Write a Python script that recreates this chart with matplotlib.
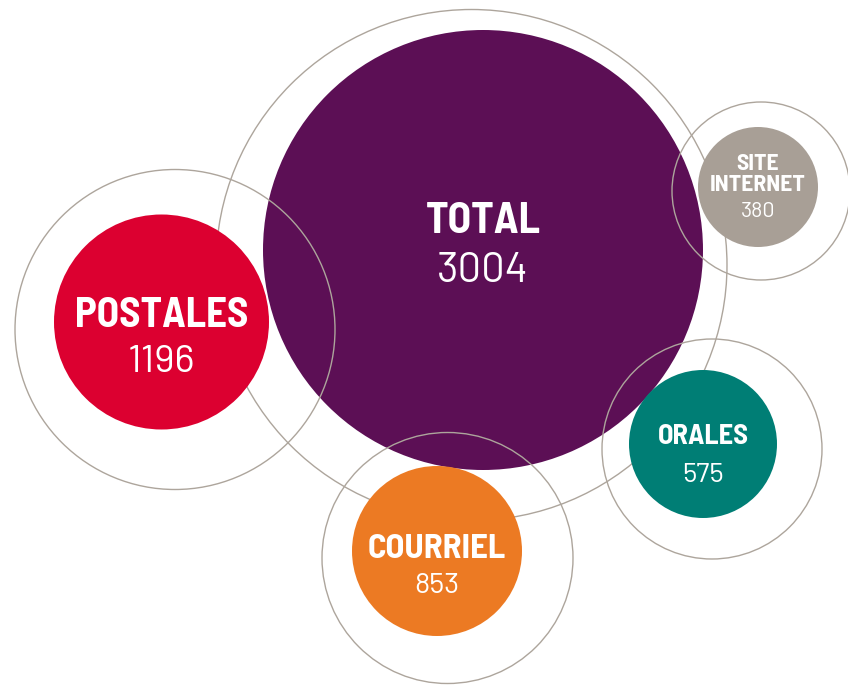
import matplotlib
matplotlib.use("Agg")
import matplotlib.pyplot as plt
from matplotlib.patches import Circle

# Data
categories = ["TOTAL", "POSTALES", "SITE\nINTERNET", "ORALES", "COURRIEL"]
values = [3004, 1196, 380, 575, 853]

# Layout (pixel coordinates) and styles
fill_centers = [(483, 250), (161.5, 322), (758, 187), (703, 444), (437, 551)]
fill_radii = [220, 107.5, 60, 74, 85]
ring_centers = [(471.5, 265), (175, 329.5), (761, 191), (712, 449), (447.5, 558)]
ring_radii = [255.5, 160, 89, 110, 125.5]
colors = ["#5C0F55", "#DC0030", "#A89F96", "#007E75", "#EC7A23"]
ring_color = "#ADA59C"
label_sizes = [31, 29.5, 17, 20.5, 25]
value_sizes = [30, 28, 15.5, 20, 21]
label_base_dy = [-16.7, 5, -17, 0.3, 7.3]   # baseline of first label line
value_base_dy = [31.7, 50, 30, 37.7, 42]
line_step = 21

W, H = 848, 687
fig = plt.figure(figsize=(W / 100, H / 100), dpi=100)
ax = fig.add_axes([0, 0, 1, 1])
ax.set_xlim(0, W)
ax.set_ylim(H, 0)
ax.set_aspect("equal")
ax.axis("off")

label_font = ["Barlow Semi Condensed", "DejaVu Sans"]
value_font = ["Barlow", "Barlow Semi Condensed", "DejaVu Sans"]
for i, (cat, val) in enumerate(zip(categories, values)):
    rc = ring_centers[i]
    ax.add_patch(Circle(rc, ring_radii[i], fill=False, edgecolor=ring_color,
                        linewidth=1.0, zorder=1 if i == 0 else 3))
    fc = fill_centers[i]
    ax.add_patch(Circle(fc, fill_radii[i], facecolor=colors[i], edgecolor="none", zorder=2))
    for k, line in enumerate(cat.split("\n")):
        ax.text(fc[0], fc[1] + label_base_dy[i] + k * line_step, line, ha="center",
                va="baseline", color="white", fontsize=label_sizes[i],
                fontweight="bold", family=label_font, zorder=4)
    ax.text(fc[0], fc[1] + value_base_dy[i], str(val), ha="center", va="baseline",
            color="white", fontsize=value_sizes[i], fontweight="normal",
            family=value_font, zorder=4)

fig.savefig("out.png", dpi=100, facecolor="white")
